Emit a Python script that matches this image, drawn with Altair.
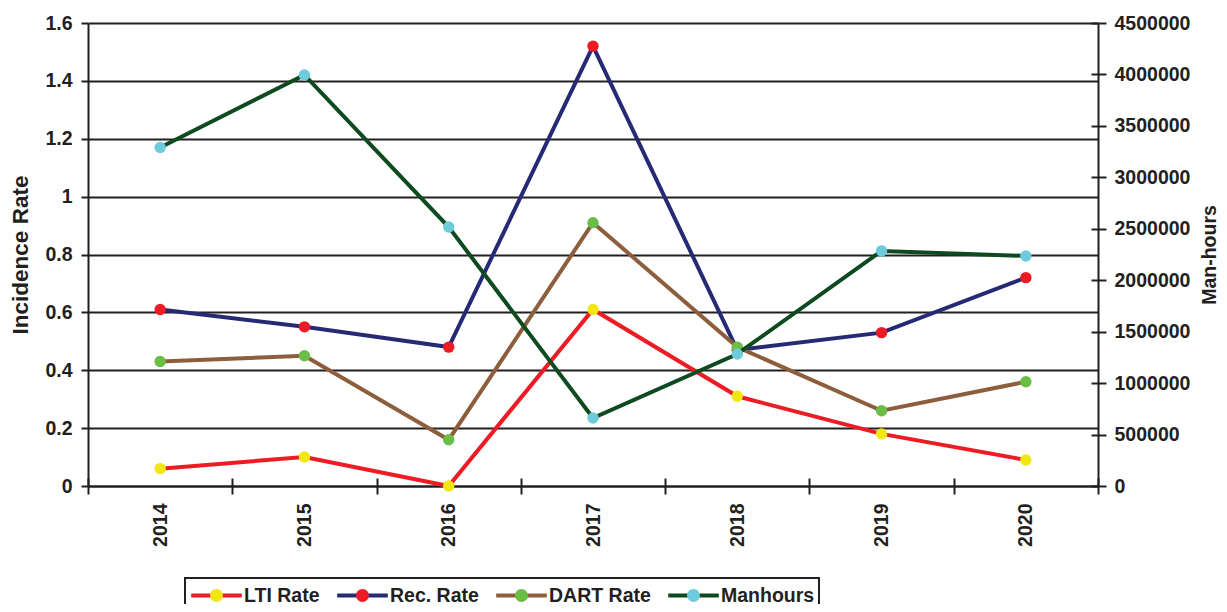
import altair as alt
import pandas as pd

# ---- data ----
years = ["2014", "2015", "2016", "2017", "2018", "2019", "2020"]
lti_rate = [0.06, 0.10, 0.00, 0.61, 0.31, 0.18, 0.09]
rec_rate = [0.61, 0.55, 0.48, 1.52, 0.47, 0.53, 0.72]
dart_rate = [0.43, 0.45, 0.16, 0.91, 0.48, 0.26, 0.36]
manhours = [3290000, 3995000, 2517000, 661000, 1283000, 2285000, 2236000]

series_names = ["LTI Rate", "Rec. Rate", "DART Rate", "Manhours"]
line_colors = ["#ed1c24", "#262a75", "#8c5e3c", "#0e4a1f"]
marker_colors = ["#f2e614", "#ed1c24", "#6abd45", "#6dcbdc"]
left_ticks = [0, 0.2, 0.4, 0.6, 0.8, 1.0, 1.2, 1.4, 1.6]
right_ticks = [0, 500000, 1000000, 1500000, 2000000, 2500000, 3000000, 3500000, 4000000, 4500000]

INK = "#231f20"
FONT = "Liberation Sans"

rows = []
for name, vals in zip(series_names[:3], [lti_rate, rec_rate, dart_rate]):
    for y, v in zip(years, vals):
        rows.append({"year": y, "value": v, "series": name, "series_pt": name + " "})
df_rates = pd.DataFrame(rows)
df_mh = pd.DataFrame({"year": years, "value": manhours,
                      "series": "Manhours", "series_pt": "Manhours "})

xscale = alt.Scale(type="band", paddingInner=0, paddingOuter=0)

# legend symbols: a long line (line legend) and a dot drawn over its middle (marker legend)
LINE_PATH = "M-2.2,0L2.2,0"
DOT_PATH = "M-2.2,0L2.2,0M-0.56,0A0.56,0.56,0,1,1,0.56,0A0.56,0.56,0,1,1,-0.56,0Z"
LEG_X, LEG_Y = 97, 555

common_leg = dict(
    orient="none", legendX=LEG_X, legendY=LEG_Y, direction="horizontal", columns=4,
    title=None, symbolSize=529, symbolStrokeWidth=4, symbolOffset=14,
    labelFont=FONT, labelFontSize=19.5, labelFontWeight="bold",
    labelOffset=14, columnPadding=9, padding=4,
)
line_legend = alt.Legend(symbolType=LINE_PATH, labelColor=INK, strokeColor=INK,
                         zindex=0, **common_leg)
point_legend = alt.Legend(symbolType=DOT_PATH, symbolStrokeColor="transparent",
                          symbolOpacity=1, labelExpr="trim(datum.label)",
                          labelColor="rgba(0,0,0,0)", zindex=1, **common_leg)

color_enc = alt.Color("series:N", scale=alt.Scale(domain=series_names, range=line_colors),
                      legend=line_legend)
fill_enc = alt.Fill("series_pt:N",
                    scale=alt.Scale(domain=[n + " " for n in series_names], range=marker_colors),
                    legend=point_legend)

x_main = alt.X("year:O", scale=xscale, axis=alt.Axis(
    orient="bottom", title=None, labelAngle=270, tickBand="extent", tickSize=8,
    tickWidth=2, tickColor=INK, domainColor=INK, domainWidth=2, labelPadding=9,
    labelFontSize=19.5, grid=False))

y_left = alt.Y("value:Q", scale=alt.Scale(domain=[0, 1.6], nice=False, zero=True), axis=alt.Axis(
    orient="left", values=left_ticks, format="~g", grid=True, gridColor=INK, gridWidth=2,
    tickSize=7, tickWidth=2, tickColor=INK, domainColor=INK, domainWidth=2,
    labelPadding=9, labelFontSize=19.5, title="Incidence Rate", titleFontSize=22.5,
    titlePadding=12))

rates_line = alt.Chart(df_rates).mark_line(strokeWidth=4).encode(x=x_main, y=y_left, color=color_enc)
rates_pts = alt.Chart(df_rates).mark_circle(size=130, opacity=1).encode(x=x_main, y=y_left, fill=fill_enc)
rates_layer = alt.layer(rates_line, rates_pts)

x_none = alt.X("year:O", scale=xscale, axis=None)
y_right = alt.Y("value:Q", scale=alt.Scale(domain=[0, 4500000], nice=False), axis=alt.Axis(
    orient="right", values=right_ticks, format="d", grid=False, tickSize=8, tickWidth=2,
    tickColor=INK, domainColor=INK, domainWidth=2, labelPadding=8, labelFontSize=19.5,
    title="Man-hours", titleAngle=270, titleBaseline="top", titleFontSize=19.5,
    titlePadding=11))
mh_line = alt.Chart(df_mh).mark_line(strokeWidth=4).encode(x=x_none, y=y_right, color=color_enc)
mh_pts = alt.Chart(df_mh).mark_circle(size=130, opacity=1).encode(x=x_none, y=y_right, fill=fill_enc)
mh_layer = alt.layer(mh_line, mh_pts)

# inward halves of the crossing tick marks
x_in = alt.X("year:O", scale=xscale, axis=alt.Axis(
    orient="bottom", offset=-8, tickBand="extent", tickSize=8, tickWidth=2, tickColor=INK,
    labels=False, domain=False, grid=False, title=None))
y_in = alt.Y("value:Q", scale=alt.Scale(domain=[0, 4500000], nice=False), axis=alt.Axis(
    orient="right", offset=-7, values=right_ticks, tickSize=7, tickWidth=2, tickColor=INK,
    labels=False, domain=False, grid=False, title=None))
tick_layer = alt.Chart(df_mh).mark_line(opacity=0).encode(x=x_in, y=y_in)

chart = alt.layer(rates_layer, mh_layer, tick_layer).resolve_scale(
    x="independent", y="independent"
).properties(
    width=1010, height=463,
    padding={"left": 80, "top": 15, "right": 121, "bottom": 118},
    autosize=alt.AutoSizeParams(type="none"),
    background="white",
).configure_view(stroke=None).configure_axis(
    labelFont=FONT, labelFontWeight="bold", labelColor=INK,
    titleFont=FONT, titleFontWeight="bold", titleColor=INK,
).configure_legend(strokeWidth=2)

chart.save("out.html", embed_options={"renderer": "svg", "actions": False})
